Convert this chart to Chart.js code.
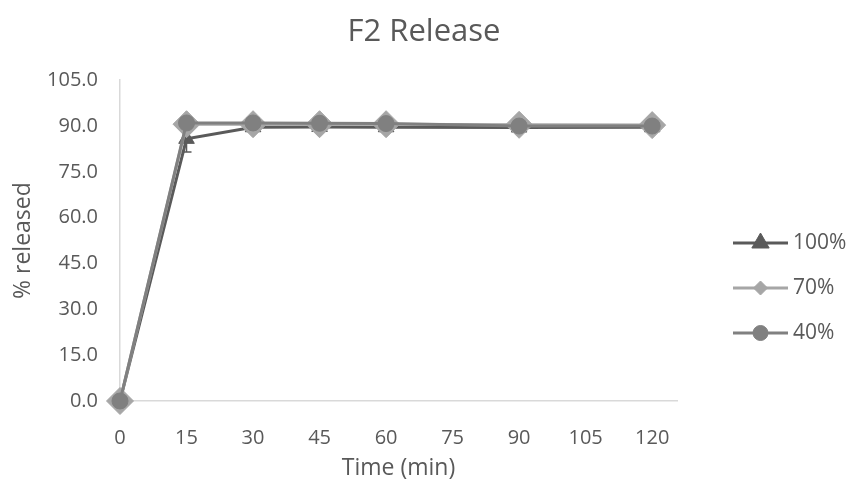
<!DOCTYPE html>
<html>
<head>
<meta charset="utf-8">
<script src="https://cdn.jsdelivr.net/npm/chart.js@4/dist/chart.umd.min.js"></script>
<style>
  html, body { margin: 0; padding: 0; background: #ffffff; }
  #wrap { width: 848px; height: 483px; }
</style>
</head>
<body>
<div id="wrap"><canvas id="c" width="848" height="483"></canvas></div>
<script>
// Sampling times (min) and % released for each formulation strength
const timeMin    = [0, 15, 30, 45, 60, 90, 120];
const release100 = [0, 85.8, 89.6, 89.7, 89.6, 89.5, 89.6];
const release70  = [0, 90.6, 90.6, 90.6, 90.6, 90.4, 90.3];
const release40  = [0, 91.0, 91.0, 90.9, 90.8, 90.0, 90.0];
const error100   = [0, 4.3, 0.3, 0.3, 0.3, 0.3, 0.3];
const seriesNames = ['100%', '70%', '40%'];
const xTickValues = [0, 15, 30, 45, 60, 75, 90, 105, 120];
const yTickValues = [0, 15, 30, 45, 60, 75, 90, 105];

const FONT = 'Open Sans';
const TEXT = '#595959';
const AXIS = '#d9d9d9';

const toPoints = vals => vals.map((v, i) => ({ x: timeMin[i], y: v }));

// Error whiskers with caps for the 100% series
const errorBars = {
  id: 'errorBars',
  afterDatasetDraw(chart, args) {
    const ds = chart.data.datasets[args.index];
    if (!ds.errors) return;
    const y = chart.scales.y;
    const ctx = chart.ctx;
    ctx.save();
    ctx.strokeStyle = ds.borderColor;
    ctx.lineWidth = 1.5;
    args.meta.data.forEach((pt, i) => {
      const e = ds.errors[i];
      if (!e) return;
      const v = ds.data[i].y;
      const yLo = y.getPixelForValue(v - e);
      const yHi = y.getPixelForValue(v + e);
      ctx.beginPath();
      ctx.moveTo(pt.x, yHi); ctx.lineTo(pt.x, yLo);
      ctx.moveTo(pt.x - 5, yLo); ctx.lineTo(pt.x + 5, yLo);
      ctx.moveTo(pt.x - 5, yHi); ctx.lineTo(pt.x + 5, yHi);
      ctx.stroke();
    });
    ctx.restore();
  }
};

// Legend on the right: line sample with a marker, then the series name
const sideLegend = {
  id: 'sideLegend',
  afterDraw(chart) {
    const ctx = chart.ctx;
    const x0 = 733, x1 = 788, tx = 793;
    const rows = [243, 288, 333];
    const legendRadius = { triangle: 10, rectRot: 7, circle: 7.5 };
    ctx.save();
    chart.data.datasets.forEach((ds, r) => {
      const yy = rows[r];
      ctx.strokeStyle = ds.borderColor;
      ctx.lineWidth = 3;
      ctx.beginPath(); ctx.moveTo(x0, yy); ctx.lineTo(x1, yy); ctx.stroke();
      ctx.fillStyle = ds.pointBackgroundColor;
      ctx.strokeStyle = ds.pointBorderColor;
      ctx.lineWidth = 1;
      Chart.helpers.drawPoint(ctx, {
        pointStyle: ds.pointStyle,
        radius: legendRadius[ds.pointStyle],
        rotation: 0,
        borderWidth: 1
      }, (x0 + x1) / 2, yy);
      ctx.fillStyle = TEXT;
      ctx.font = '21px "' + FONT + '"';
      ctx.textAlign = 'left';
      ctx.textBaseline = 'middle';
      ctx.fillText(ds.label, tx, yy);
    });
    ctx.restore();
  }
};

function series(label, vals, color, style, radius, order, extra) {
  return Object.assign({
    label,
    data: toPoints(vals),
    showLine: true,
    clip: false,
    borderColor: color,
    backgroundColor: color,
    borderWidth: 3,
    pointStyle: style,
    pointRadius: radius,
    pointHoverRadius: radius,
    pointBackgroundColor: color,
    pointBorderColor: color,
    pointBorderWidth: 1,
    tension: 0,
    order
  }, extra || {});
}

new Chart(document.getElementById('c'), {
  type: 'scatter',
  data: {
    datasets: [
      series(seriesNames[0], release100, '#5a5a5a', 'triangle', 9, 3, { errors: error100 }),
      series(seriesNames[1], release70,  '#a6a6a6', 'rectRot', 13.5, 2),
      series(seriesNames[2], release40,  '#808080', 'circle', 8, 1)
    ]
  },
  options: {
    responsive: false,
    animation: false,
    devicePixelRatio: 1,
    layout: { padding: 0 },
    plugins: {
      legend: { display: false },
      tooltip: { enabled: false },
      title: {
        display: true,
        text: 'F2 Release',
        color: TEXT,
        font: { family: FONT, size: 31, weight: 'normal' },
        padding: { top: 14, bottom: 29 }
      }
    },
    scales: {
      x: {
        type: 'linear',
        min: 0,
        max: 125.6,
        afterBuildTicks: axis => { axis.ticks = xTickValues.map(v => ({ value: v })); },
        afterFit: s => { s.height = 82; },
        grid: { color: 'rgba(0,0,0,0)', drawTicks: false },
        border: { display: true, color: AXIS, width: 1.5 },
        ticks: {
          color: TEXT,
          padding: 25,
          maxRotation: 0,
          autoSkip: false,
          font: { family: FONT, size: 20 }
        },
        title: {
          display: true,
          text: 'Time (min)',
          color: TEXT,
          font: { family: FONT, size: 23 },
          padding: { top: 0, bottom: 1 }
        }
      },
      y: {
        type: 'linear',
        min: 0,
        max: 105,
        afterBuildTicks: axis => { axis.ticks = yTickValues.map(v => ({ value: v })); },
        afterFit: s => { s.width = 120; },
        grid: { color: 'rgba(0,0,0,0)', drawTicks: false },
        border: { display: true, color: AXIS, width: 1.5 },
        ticks: {
          color: TEXT,
          padding: 22,
          font: { family: FONT, size: 20 },
          callback: v => Number(v).toFixed(1)
        },
        title: {
          display: true,
          text: '% released',
          color: TEXT,
          font: { family: FONT, size: 23 },
          padding: { top: 10, bottom: 0 }
        }
      },
      legendSpace: {
        type: 'linear',
        position: 'right',
        display: true,
        afterFit: s => { s.width = 171; },
        grid: { display: false, drawTicks: false },
        border: { display: false },
        ticks: { display: false },
        title: { display: false }
      }
    }
  },
  plugins: [errorBars, sideLegend]
});
</script>
</body>
</html>
